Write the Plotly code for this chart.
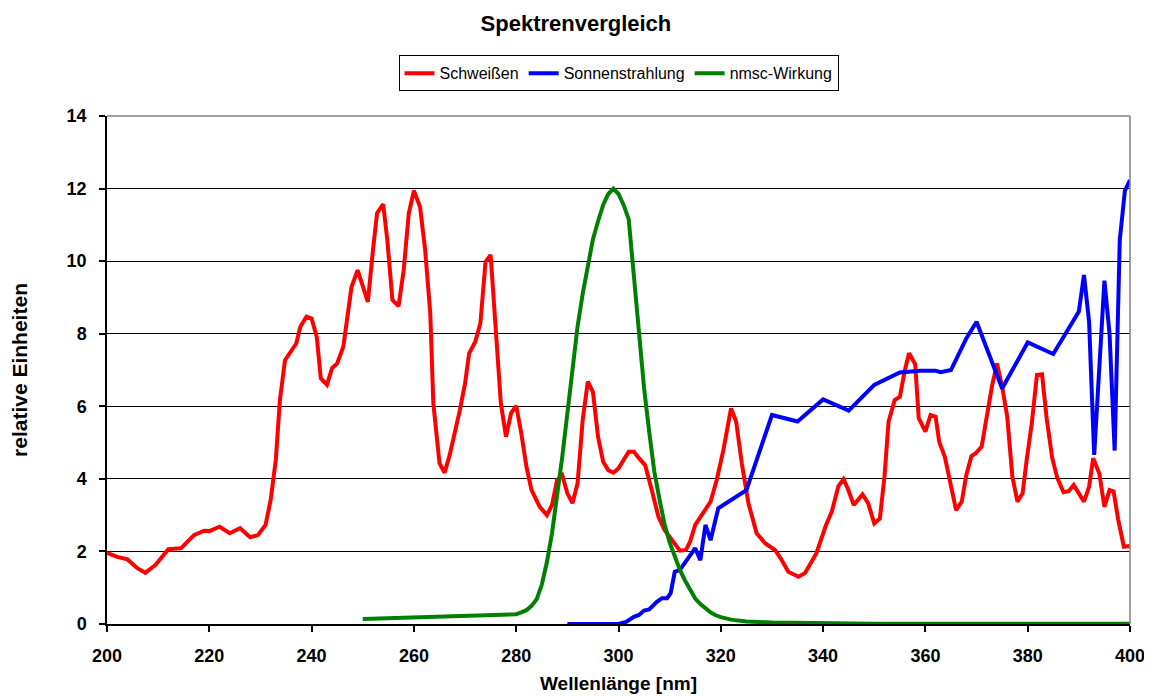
import plotly.graph_objects as go

# Schweißen spectrum (wavelength nm, relative units)
weld_x = [200, 202, 204, 206, 207.5, 209.5, 212, 214.5, 217, 219, 220, 222, 224, 226, 228, 229.5,
          231, 232, 233, 233.8, 234.8, 237, 237.8, 239, 240, 241, 241.8, 243, 244, 245, 246.2,
          247.8, 249, 251, 252, 252.8, 254, 254.8, 255.8, 257, 258, 259, 260, 261.2, 262.2,
          263.2, 263.8, 265, 266, 267, 269, 270, 270.8, 272, 273, 274, 275, 276, 277, 278,
          279, 280, 281, 282, 283, 284.6, 286, 287, 288, 289, 290, 291, 292, 293, 294, 295,
          296, 297, 298, 299, 300, 302, 303, 304, 305.2, 306.5, 307.8, 309, 310.4, 312,
          313.2, 314, 315, 316.6, 318, 319.2, 320.5, 322, 323, 324.1, 325.4, 327, 328.7,
          330.6, 331.7, 333.2, 335.2, 336.5, 338.7, 340.5, 341.7, 343, 344, 344.8, 346,
          347.7, 348.8, 350, 351.1, 352, 352.8, 354, 355, 356, 356.8, 358, 358.7, 360, 361,
          362, 362.7, 363.8, 364.8, 366, 367.1, 368, 369, 369.8, 371, 372, 373, 374, 375,
          376, 377, 378, 379, 379.8, 380.8, 381.8, 382.8, 383.7, 384.8, 385.8, 387, 388,
          389, 390, 391, 392, 392.8, 394, 395, 396, 396.8, 397.7, 398.8, 400]
weld_y = [1.96, 1.85, 1.78, 1.53, 1.41, 1.63, 2.06, 2.09, 2.45, 2.57, 2.56, 2.68, 2.50, 2.64, 2.39, 2.45,
          2.73, 3.42, 4.52, 6.17, 7.27, 7.73, 8.19, 8.47, 8.42, 7.92, 6.77, 6.59, 7.05, 7.18, 7.64,
          9.29, 9.75, 8.88, 10.31, 11.32, 11.57, 10.58, 8.93, 8.76, 9.75, 11.32, 11.94, 11.50, 10.31,
          8.56, 6.08, 4.43, 4.17, 4.66, 5.90, 6.63, 7.46, 7.78, 8.29, 9.98, 10.17, 7.92, 6.08, 5.16,
          5.81, 6.01, 5.25, 4.34, 3.69, 3.23, 3.00, 3.28, 3.97, 4.10, 3.60, 3.33, 3.88, 5.62, 6.68, 6.40,
          5.16, 4.47, 4.24, 4.17, 4.29, 4.75, 4.75, 4.57, 4.38, 3.69, 2.96, 2.59, 2.31, 2.02,
          2.04, 2.27, 2.73, 3.05, 3.37, 3.97, 4.79, 5.94, 5.58, 4.43, 3.33, 2.50, 2.22,
          2.04, 1.81, 1.44, 1.30, 1.41, 1.95, 2.70, 3.10, 3.80, 3.99, 3.74, 3.28,
          3.57, 3.33, 2.77, 2.91, 4.06, 5.58, 6.17, 6.26, 7.00, 7.46, 7.16, 5.67, 5.30, 5.76,
          5.71, 5.02, 4.61, 3.88, 3.14, 3.37, 4.11, 4.63, 4.70, 4.89, 5.71, 6.54, 7.18, 6.54,
          5.71, 4.06, 3.37, 3.60, 4.52, 5.53, 6.86, 6.88, 5.67, 4.57, 4.02, 3.63, 3.66,
          3.83, 3.60, 3.37, 3.78, 4.57, 4.15, 3.23, 3.69, 3.65, 2.87, 2.13, 2.15]

# Sonnenstrahlung
sun_x = [290, 300, 301.5, 303, 304, 305, 306, 307.5, 308.5, 309.5, 310.2, 311, 312, 313.5, 315,
         316, 317, 318, 319.5, 325, 330, 335, 340, 345, 350, 355, 359, 362, 363, 365, 368, 370,
         375, 380, 385, 390, 391, 392, 393, 395, 396, 397, 398, 399, 400]
sun_y = [0, 0, 0.06, 0.20, 0.25, 0.37, 0.40, 0.61, 0.71, 0.71, 0.85, 1.44, 1.49, 1.81, 2.09,
         1.76, 2.73, 2.31, 3.19, 3.69, 5.76, 5.58, 6.19, 5.88, 6.59, 6.93, 6.98, 6.98, 6.94, 7.00,
         7.87, 8.33, 6.49, 7.76, 7.44, 8.61, 9.62, 8.33, 4.66, 9.46, 8.00, 4.78, 10.58, 11.94, 12.23]

# nmsc-Wirkung
nmsc_x = [250, 260, 270, 280, 281, 282, 283, 284, 285, 286, 287, 288, 289, 290, 291, 292, 293,
          294, 295, 296, 297, 298, 299, 300, 301, 302, 303, 304, 305, 306, 307, 308, 309, 310,
          311, 312, 313, 314, 315, 316, 317, 318, 319, 320, 322, 325, 330, 340, 350, 400]
nmsc_y = [0.14, 0.18, 0.22, 0.27, 0.32, 0.38, 0.50, 0.68, 1.08, 1.70, 2.50, 3.50, 4.60, 5.80,
          7.00, 8.20, 9.10, 9.90, 10.60, 11.10, 11.55, 11.85, 12.00, 11.85, 11.55, 11.15, 9.60,
          8.00, 6.50, 5.30, 4.20, 3.45, 2.75, 2.25, 1.85, 1.49, 1.20, 0.94, 0.70, 0.55, 0.42,
          0.32, 0.24, 0.19, 0.12, 0.07, 0.04, 0.02, 0.01, 0.01]

FONT = "Arial, Liberation Sans, sans-serif"

fig = go.Figure()
fig.add_trace(go.Scatter(x=weld_x, y=weld_y, mode="lines", name="Schweißen",
                         line={"color": "#ff0000", "width": 4}))
fig.add_trace(go.Scatter(x=sun_x, y=sun_y, mode="lines", name="Sonnenstrahlung",
                         line={"color": "#0000ff", "width": 4}))
fig.add_trace(go.Scatter(x=nmsc_x, y=nmsc_y, mode="lines", name="nmsc-Wirkung",
                         line={"color": "#008000", "width": 4}))

# gray frame at top and right of the plot area
fig.add_shape(type="line", xref="paper", yref="paper", x0=1, x1=1, y0=0, y1=1,
              line={"color": "#808080", "width": 1.5})
fig.add_shape(type="line", xref="paper", yref="paper", x0=0, x1=1, y0=1, y1=1,
              line={"color": "#808080", "width": 1.5})

# the page body adds an 8px offset, margins are set to compensate
fig.update_layout(
    width=1152,
    height=697,
    paper_bgcolor="white",
    plot_bgcolor="white",
    margin={"l": 99, "r": 30, "t": 108, "b": 81},
    font={"family": FONT, "color": "black", "size": 16},
    title={"text": "Spektrenvergleich", "x": 0.493, "xanchor": "center",
           "y": 0.978, "yanchor": "middle",
           "font": {"size": 22, "weight": "bold"}},
    showlegend=True,
    legend={"orientation": "h", "x": 0.5, "xanchor": "center", "y": 1.084,
            "yanchor": "middle", "bordercolor": "black", "borderwidth": 1,
            "font": {"size": 16}, "itemwidth": 30, "tracegroupgap": 0},
    xaxis={
        "range": [200, 400],
        "tickvals": list(range(200, 401, 20)),
        "ticks": "outside", "ticklen": 6, "tickcolor": "black", "tickwidth": 1.5,
        "showline": True, "linecolor": "black", "linewidth": 1.5,
        "showgrid": False, "zeroline": False, "automargin": False,
        "tickfont": {"size": 18, "weight": "bold"},
        "ticklabelstandoff": 9,
        "title": {"text": "Wellenlänge [nm]", "font": {"size": 19, "weight": "bold"},
                  "standoff": 11},
    },
    yaxis={
        "range": [0, 14],
        "tickvals": list(range(0, 15, 2)),
        "ticks": "outside", "ticklen": 6, "tickcolor": "black", "tickwidth": 1.5,
        "showline": True, "linecolor": "black", "linewidth": 1.5,
        "showgrid": True, "gridcolor": "black", "gridwidth": 1,
        "zeroline": False, "automargin": False,
        "tickfont": {"size": 18, "weight": "bold"},
        "ticklabelstandoff": 9,
        "title": {"text": "relative Einheiten", "font": {"size": 21, "weight": "bold"},
                  "standoff": 34},
    },
)

fig.write_html("out.html")
